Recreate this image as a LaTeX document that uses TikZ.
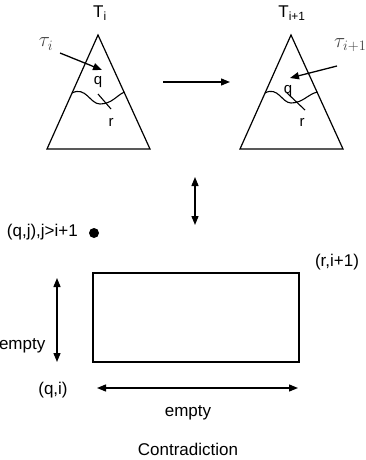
\documentclass[tikz,border=0pt]{standalone}
\usepackage{fontspec}
\setmainfont{Liberation Sans}
\usetikzlibrary{arrows.meta}

\begin{document}
\begin{tikzpicture}[x=1pt,y=-1pt,
        lbl/.style={inner sep=0pt, font=\fontsize{17}{20}\selectfont},
        tlbl/.style={inner sep=0pt, font=\fontsize{15}{18}\selectfont},
        mlbl/.style={inner sep=0pt, text=black!75, font=\fontsize{21}{24}\selectfont},
        arr/.style={line width=1.3pt, -{Triangle[length=9pt,width=7pt]}},
        darr/.style={line width=1.3pt, {Triangle[length=9pt,width=7pt]}-{Triangle[length=9pt,width=7pt]}},
        ]
        \useasboundingbox (0,0) rectangle (365,460);

        % left tree
        \node (ti) [tlbl] at (100,13) {\fontsize{17}{20}\selectfont T\textsubscript{i}};
        \coordinate (a1) at (98,35);
        \coordinate (b1) at (47,149);
        \coordinate (c1) at (150,149);
        \draw[line width=1.2pt] (a1) -- (b1) -- (c1) -- cycle;
        \node (taui) [mlbl] at (46,44) {$\tau_i$};
        \coordinate (s1) at (60,53);
        \coordinate (e1) at (102,70);
        \draw[arr] (s1) -- (e1);
        \node (q1) [tlbl] at (98,82) {q};
        \draw[line width=1.1pt] (72,93) .. controls (86,86) and (90,104) .. (100,104)
            .. controls (112,104) and (117,95) .. (124.5,92);
        \draw[line width=1.1pt] (98,94) -- (111,109);
        \node (r1) [tlbl] at (111,122) {r};

        % right tree
        \node (tj) [tlbl] at (292,13) {\fontsize{17}{20}\selectfont T\textsubscript{i+1}};
        \coordinate (a2) at (291,35);
        \coordinate (b2) at (240,149);
        \coordinate (c2) at (343,149);
        \draw[line width=1.2pt] (a2) -- (b2) -- (c2) -- cycle;
        \node (tauj) [mlbl, anchor=west] at (334,45) {$\tau_{i+1}$};
        \coordinate (s2) at (337,66);
        \coordinate (e2) at (290,78);
        \draw[arr] (s2) -- (e2);
        \node (q2) [tlbl] at (288,91) {q};
        \draw[line width=1.1pt] (265,93) .. controls (278,86) and (282,103) .. (291,103)
            .. controls (303,103) and (308,94) .. (317.5,92);
        \draw[line width=1.1pt] (287,93) -- (305,110);
        \node (r2) [tlbl] at (302,122) {r};

        \coordinate (h1) at (163,82);
        \coordinate (h2) at (230,82);
        \draw[arr] (h1) -- (h2);

        \coordinate (v1) at (195,177);
        \coordinate (v2) at (195,225);
        \draw[darr] (v1) -- (v2);

        % grid part
        \node (dot) [circle, fill=black, inner sep=0pt, minimum size=10pt] at (94,233) {};
        \node (qj) [lbl, anchor=east] at (78,232) {(q,j),j>i+1};
        \node (ri) [lbl] at (337,262) {(r,i+1)};
        \node (box) [draw, line width=2pt, minimum width=206pt, minimum height=89pt,
            inner sep=0pt] at (196,317.5) {};

        \coordinate (l1) at (57,278);
        \coordinate (l2) at (57,362);
        \draw[darr] (l1) -- (l2);
        \node (emptyl) [lbl, anchor=east] at (45.5,346) {empty};

        \node (qi) [lbl] at (53,390) {(q,i)};
        \coordinate (w1) at (97,388);
        \coordinate (w2) at (298,388);
        \draw[darr] (w1) -- (w2);
        \node (emptyb) [lbl] at (188,413) {empty};

        \node (contra) [lbl] at (188,449) {Contradiction};
    \end{tikzpicture}
\end{document}
